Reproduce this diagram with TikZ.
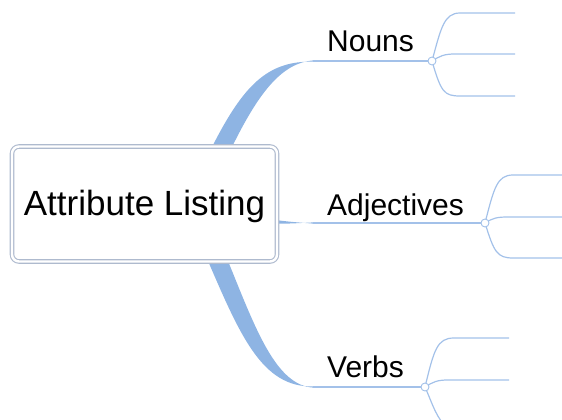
\documentclass[tikz,border=0pt]{standalone}
\usepackage{fontspec}
\setmainfont{Liberation Sans}
\usetikzlibrary{backgrounds}

\definecolor{limbblue}{HTML}{8EB4E3}
\definecolor{twigblue}{HTML}{A3C1E9}
\definecolor{boxgray}{HTML}{AEBACE}

\tikzset{
  rootbox/.style={draw=boxgray,line width=1.1pt,double=white,double distance=2.4pt,
    fill=white,rounded corners=7pt,minimum width=265pt,minimum height=115pt,
    inner sep=0pt,text depth=3pt,font=\fontsize{35}{40}\selectfont},
  topic/.style={anchor=base west,inner sep=0pt,font=\fontsize{30}{34}\selectfont},
  knob/.style={circle,draw=twigblue,fill=white,line width=0.9pt,minimum size=8pt,inner sep=0pt},
  limb/.style={fill=limbblue},
  twig/.style={draw=twigblue,line width=1.2pt},
}

\begin{document}
\begin{tikzpicture}[x=1pt,y=-1pt]
\useasboundingbox (0,0) rectangle (562,420);

\node[rootbox] (root) at (144.5,204) {Attribute Listing};

\node[topic] (nouns) at (327,52) {Nouns};
\node[topic] (adj) at (327,215) {Adjectives};
\node[topic] (verbs) at (327,377) {Verbs};

\node[knob] (kn) at (432,61) {};
\node[knob] (ka) at (485,223) {};
\node[knob] (kv) at (425,387) {};

\coordinate (en) at (313,61);
\coordinate (ea) at (313,223);
\coordinate (ev) at (313,387);

% leaf ends
\coordinate (n1) at (515,13);
\coordinate (n2) at (515,54);
\coordinate (n3) at (515,96);
\coordinate (a1) at (562,175);
\coordinate (a2) at (562,217);
\coordinate (a3) at (562,258);
\coordinate (v1) at (509,338);
\coordinate (v2) at (509,380);
\coordinate (v3) at (449,430);

\begin{pgfonlayer}{background}
% thick limbs out of the root
\fill[limb] (212,147) .. controls (244,84) and (268,61) .. ([yshift=-0.6pt]en)
  -- ([yshift=0.6pt]en) .. controls (282,63) and (259,92) .. (232,147) -- cycle;
\fill[limb] (272,219.6) .. controls (290,221.8) .. ([yshift=-0.6pt]ea)
  -- ([yshift=0.6pt]ea) .. controls (290,223.6) .. (272,223.8) -- cycle;
\fill[limb] (208,261) .. controls (240,335) and (262,387.6) .. ([yshift=0.6pt]ev)
  -- ([yshift=-0.6pt]ev) .. controls (276,385) and (256,330) .. (228,261) -- cycle;

\draw[twig] (en) -- (kn.center);
\draw[twig] (ea) -- (ka.center);
\draw[twig] (ev) -- (kv.center);

% Nouns
\draw[twig] (kn.center) .. controls (441,28) and (444,13) .. (460,13) -- (n1);
\draw[twig] (kn.center) .. controls (440,56) and (444,54) .. (455,54) -- (n2);
\draw[twig] (kn.center) .. controls (441,92) and (444,96) .. (460,96) -- (n3);
% Adjectives
\draw[twig] (ka.center) .. controls (494,188) and (497,175) .. (513,175) -- (a1);
\draw[twig] (ka.center) .. controls (493,218) and (497,217) .. (508,217) -- (a2);
\draw[twig] (ka.center) .. controls (494,252) and (497,258) .. (513,258) -- (a3);
% Verbs
\draw[twig] (kv.center) .. controls (434,350) and (437,338) .. (454,338) -- (v1);
\draw[twig] (kv.center) .. controls (433,382) and (437,380) .. (448,380) -- (v2);
\draw[twig] (kv.center) .. controls (433,405) and (436,418) .. (v3);
\end{pgfonlayer}

\end{tikzpicture}
\end{document}
